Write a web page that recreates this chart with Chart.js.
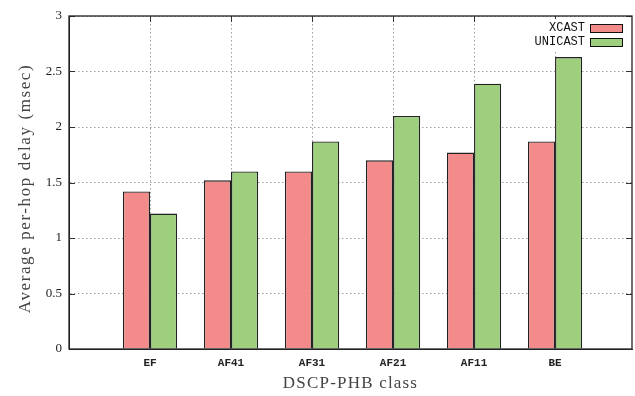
<!DOCTYPE html>
<html lang="en">
<head>
    <meta charset="UTF-8">
    <title>Average per-hop delay</title>
    <script src="https://cdn.jsdelivr.net/npm/chart.js"></script>
    <style>
        body { margin: 0; background: #fff; }
        #wrap { width: 635px; height: 396px; }
    </style>
</head>
<body>
    <div id="wrap">
        <canvas id="chart_delay"></canvas>
    </div>

    <script>
        // data
        var categories = ['EF', 'AF41', 'AF31', 'AF21', 'AF11', 'BE'];
        var xcast = [1.42, 1.52, 1.60, 1.70, 1.77, 1.87];
        var unicast = [1.22, 1.60, 1.87, 2.10, 2.39, 2.63];
        var yTicks = [0, 0.5, 1, 1.5, 2, 2.5, 3];

        var redFill = '#f38b8b';
        var greenFill = '#9dcf7d';

        // gnuplot style xrange: categories at 0..5, axis from -1 to ~6
        var toPoints = function (arr) {
            return arr.map(function (v, i) { return { x: i, y: v }; });
        };

        var line = function (ctx, x1, y1, x2, y2) {
            ctx.beginPath();
            ctx.moveTo(x1, y1);
            ctx.lineTo(x2, y2);
            ctx.stroke();
        };

        var decoPlugin = {
            id: 'deco',
            afterDatasetsDraw: function (chart) {
                var ctx = chart.ctx;
                var a = chart.chartArea;
                var x = chart.scales.x;
                var y = chart.scales.y;
                ctx.save();

                // inward tick marks
                ctx.strokeStyle = '#333';
                ctx.lineWidth = 1;
                y.ticks.forEach(function (t, i) {
                    var py = Math.round(y.getPixelForTick(i)) + 0.5;
                    line(ctx, a.left, py, a.left + 6, py);
                    line(ctx, a.right - 6, py, a.right, py);
                });
                x.ticks.forEach(function (t, i) {
                    var px = Math.round(x.getPixelForTick(i)) + 0.5;
                    line(ctx, px, a.top, px, a.top + 6);
                });

                // legend (text then swatch, top right)
                ctx.fillStyle = '#fff';
                ctx.fillRect(a.right - 100, a.top + 3, 95, 31);
                ctx.font = '12px "Liberation Mono"';
                ctx.textAlign = 'right';
                ctx.textBaseline = 'middle';
                chart.data.datasets.forEach(function (ds, i) {
                    var cy = a.top + 12 + i * 14;
                    ctx.fillStyle = '#111';
                    ctx.fillText(ds.label, a.right - 47, cy);
                    ctx.fillStyle = ds.backgroundColor;
                    ctx.fillRect(a.right - 42, cy - 4, 32, 8);
                    ctx.strokeStyle = '#111';
                    ctx.lineWidth = 1;
                    ctx.strokeRect(a.right - 42 + 0.5, cy - 4 + 0.5, 32, 8);
                });

                // frame
                ctx.strokeStyle = '#222';
                ctx.lineWidth = 1.3;
                ctx.strokeRect(a.left, a.top, a.right - a.left, a.bottom - a.top);

                // axis titles
                ctx.fillStyle = '#444';
                ctx.font = '17px "Liberation Serif"';
                ctx.textAlign = 'center';
                ctx.textBaseline = 'middle';
                ctx.letterSpacing = '1.2px';
                ctx.fillText('DSCP-PHB class', (a.left + a.right) / 2, 384);
                ctx.letterSpacing = '1.6px';
                ctx.translate(26, (a.top + a.bottom) / 2 + 6);
                ctx.rotate(-Math.PI / 2);
                ctx.fillText('Average per-hop delay (msec)', 0, 0);
                ctx.restore();
            }
        };

        var ctx_delay = document.getElementById('chart_delay').getContext('2d');
        var chart_delay = new Chart(ctx_delay, {
            type: 'bar',
            data: {
                datasets: [{
                    label: 'XCAST',
                    data: toPoints(xcast),
                    backgroundColor: redFill,
                    borderColor: '#222',
                    borderWidth: 1.4
                }, {
                    label: 'UNICAST',
                    data: toPoints(unicast),
                    backgroundColor: greenFill,
                    borderColor: '#222',
                    borderWidth: 1.4
                }]
            },
            options: {
                responsive: true,
                maintainAspectRatio: false,
                animation: false,
                events: [],
                layout: { padding: { top: 16, right: 3, left: 0, bottom: 0 } },
                datasets: {
                    bar: { barPercentage: 1, categoryPercentage: 0.67 }
                },
                plugins: {
                    legend: { display: false },
                    tooltip: { enabled: false }
                },
                scales: {
                    x: {
                        type: 'linear',
                        min: -1,
                        max: 5.95,
                        offset: false,
                        afterBuildTicks: function (s) {
                            s.ticks = categories.map(function (c, i) { return { value: i }; });
                        },
                        grid: { offset: false, color: '#a0a0a0', drawTicks: false },
                        // in v4 border.dash sets the dashes of the grid lines
                        border: { display: true, color: '#222', width: 1, dash: [1.5, 2.5] },
                        ticks: {
                            autoSkip: false,
                            maxRotation: 0,
                            padding: 8,
                            color: '#222',
                            font: { family: 'Liberation Mono', size: 11, weight: 'bold' },
                            callback: function (v) { return categories[v]; }
                        },
                        afterFit: function (s) { s.height = 47; }
                    },
                    y: {
                        min: 0,
                        max: 3,
                        afterBuildTicks: function (s) {
                            s.ticks = yTicks.map(function (v) { return { value: v }; });
                        },
                        grid: { color: '#a0a0a0', drawTicks: false },
                        border: { display: true, color: '#222', width: 1, dash: [1.5, 2.5] },
                        ticks: {
                            padding: 7,
                            color: '#222',
                            font: { family: 'Liberation Serif', size: 13 },
                            callback: function (v) { return String(v); }
                        },
                        afterFit: function (s) { s.width = 69; }
                    }
                }
            },
            plugins: [decoPlugin]
        });
    </script>
</body>
</html>
